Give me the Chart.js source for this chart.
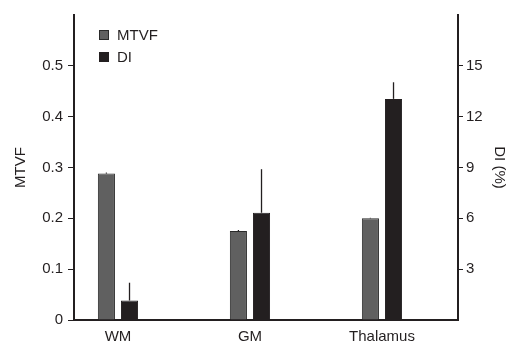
<!DOCTYPE html>
<html>
<head>
<meta charset="utf-8">
<script src="https://cdn.jsdelivr.net/npm/chart.js@4"></script>
<style>
  html, body { margin: 0; padding: 0; background: #fff; }
  #wrap { width: 508px; height: 342px; }
</style>
</head>
<body>
<div id="wrap"><canvas id="myChart" width="508" height="342"></canvas></div>
<script>
// values
var categories = ['WM', 'GM', 'Thalamus'];
var mtvf = [0.288, 0.175, 0.200];
var mtvfErr = [0.002, 0.002, 0.001];
var di = [1.15, 6.33, 13.05];
var diErr = [1.05, 2.57, 0.98];
var mtvfTicks = [0, 0.1, 0.2, 0.3, 0.4, 0.5];
var diTicks = [3, 6, 9, 12, 15];

var ink = '#231f20';
var font = { family: '"Liberation Sans", Arial, sans-serif', size: 15 };

// vertical error lines above each bar
var errorBars = {
  id: 'errorBars',
  afterDatasetsDraw: function(chart) {
    var ctx = chart.ctx;
    chart.data.datasets.forEach(function(ds, i) {
      var meta = chart.getDatasetMeta(i);
      var yScale = chart.scales[ds.yAxisID];
      meta.data.forEach(function(bar, j) {
        var top = yScale.getPixelForValue(ds.data[j].y + ds.errors[j]);
        ctx.save();
        ctx.strokeStyle = ink;
        ctx.lineWidth = 1.3;
        ctx.beginPath();
        ctx.moveTo(bar.x, bar.y);
        ctx.lineTo(bar.x, top);
        ctx.stroke();
        ctx.restore();
      });
    });
  }
};

// legend sitting inside the plot, top left
var innerLegend = {
  id: 'innerLegend',
  afterDraw: function(chart) {
    var ctx = chart.ctx;
    var area = chart.chartArea;
    ctx.save();
    chart.data.datasets.forEach(function(ds, i) {
      var x = area.left + 25;
      var y = area.top + 15 + i * 22;
      ctx.fillStyle = ds.backgroundColor;
      ctx.strokeStyle = ds.borderColor;
      ctx.lineWidth = 1;
      ctx.fillRect(x, y, 10, 10);
      ctx.strokeRect(x + 0.5, y + 0.5, 9, 9);
      ctx.fillStyle = ink;
      ctx.font = font.size + 'px ' + font.family;
      ctx.textBaseline = 'middle';
      ctx.fillText(ds.label, x + 18, y + 5.5);
    });
    ctx.restore();
  }
};

function toPoints(values) {
  return values.map(function(v, i) { return { x: i, y: v }; });
}

var ctx = document.getElementById('myChart');
var myChart = new Chart(ctx, {
  type: 'bar',
  data: {
    datasets: [{
      label: 'MTVF',
      data: toPoints(mtvf),
      errors: mtvfErr,
      yAxisID: 'y',
      backgroundColor: '#606060',
      borderColor: '#2a2a2a',
      borderWidth: 1
    }, {
      label: 'DI',
      data: toPoints(di),
      errors: diErr,
      yAxisID: 'y2',
      backgroundColor: ink,
      borderColor: ink,
      borderWidth: 1
    }]
  },
  options: {
    responsive: false,
    animation: false,
    categoryPercentage: 0.35,
    barPercentage: 0.74,
    layout: { padding: { top: 15, left: 0, right: 0, bottom: 0 } },
    plugins: {
      legend: { display: false },
      tooltip: { enabled: false }
    },
    scales: {
      x: {
        type: 'linear',
        offset: false,
        min: -0.333,
        max: 2.576,
        afterBuildTicks: function(scale) {
          scale.ticks = categories.map(function(c, i) { return { value: i }; });
        },
        afterFit: function(scale) { scale.height = 22; },
        grid: { display: false },
        border: { display: true, color: ink, width: 2 },
        ticks: {
          padding: 0,
          color: ink,
          font: font,
          maxRotation: 0,
          autoSkip: false,
          callback: function(value) { return categories[value]; }
        }
      },
      y: {
        position: 'left',
        min: 0,
        max: 0.6,
        afterBuildTicks: function(scale) {
          scale.ticks = mtvfTicks.map(function(v) { return { value: v }; });
        },
        afterFit: function(scale) { scale.width = 74; },
        grid: { drawOnChartArea: false, drawTicks: true, tickLength: 6, color: ink },
        border: { display: true, color: ink, width: 2 },
        ticks: {
          padding: 5,
          color: ink,
          font: font,
          callback: function(value) { return String(+value.toFixed(1)); }
        },
        title: { display: true, text: 'MTVF', color: ink, font: font, padding: { top: 12, bottom: 0 } }
      },
      y2: {
        position: 'right',
        min: 0,
        max: 18,
        afterBuildTicks: function(scale) {
          scale.ticks = diTicks.map(function(v) { return { value: v }; });
        },
        afterFit: function(scale) { scale.width = 50; },
        grid: { drawOnChartArea: false, drawTicks: true, tickLength: 5, color: ink },
        border: { display: true, color: ink, width: 2 },
        ticks: { padding: 3, color: ink, font: font },
        title: { display: true, text: 'DI (%)', color: ink, font: font, padding: 0 }
      }
    }
  },
  plugins: [errorBars, innerLegend]
});
</script>
</body>
</html>
